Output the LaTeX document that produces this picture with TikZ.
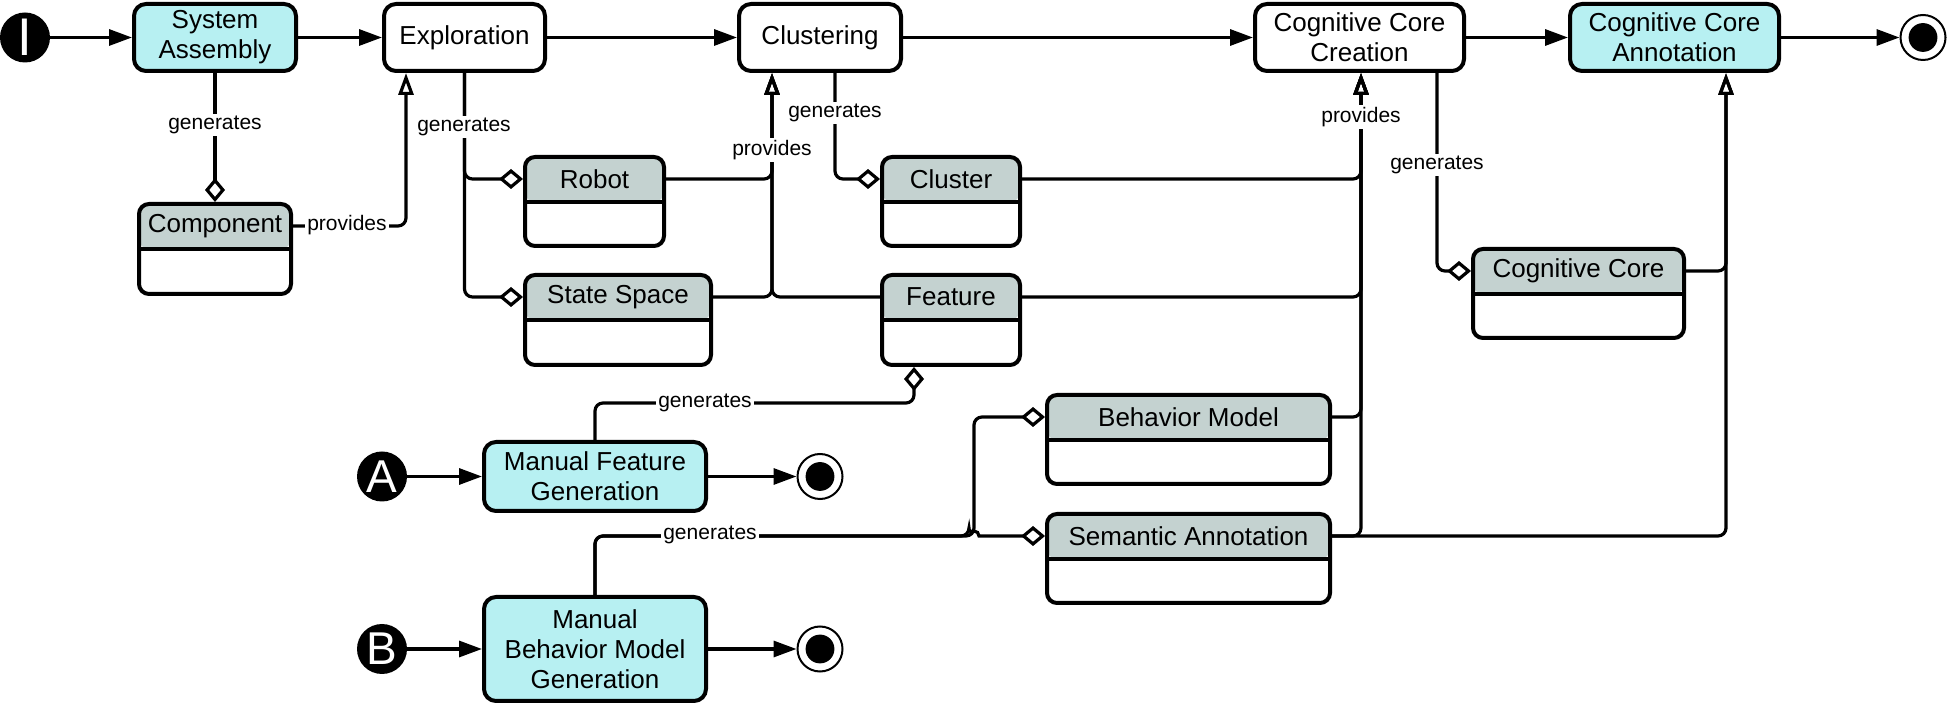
\documentclass[tikz,border=0pt]{standalone}
\usepackage{fontspec}
\setmainfont{Liberation Sans}
\usetikzlibrary{arrows.meta}
\definecolor{cyanf}{HTML}{B7F0F2}
\definecolor{hdrgrey}{HTML}{C4D2D0}
\newcommand\nodefnt{\fontsize{13}{15}\selectfont}
\newcommand\lblfnt{\fontsize{10.5}{12}\selectfont}
\newcommand\initfnt{\fontsize{26.5}{28}\selectfont}
\newcommand\letfnt{\fontsize{23}{25}\selectfont}
\begin{document}
\begin{tikzpicture}[x=0.5pt,y=-0.5pt,
  act/.style={draw, line width=2pt, rounded corners=6pt, align=center, font=\nodefnt, inner sep=2pt, minimum height=33.5pt},
  actc/.style={act, fill=cyanf},
  actw/.style={act, fill=white},
  cls/.style={draw, line width=2pt, rounded corners=5pt, fill=white, inner sep=0pt, minimum height=44.5pt,
    path picture={\fill[hdrgrey] (path picture bounding box.north west) rectangle ([yshift=-22.5pt]path picture bounding box.north east);
      \draw[line width=1.8pt] ([yshift=-22.5pt]path picture bounding box.north west) -- ([yshift=-22.5pt]path picture bounding box.north east);}},
  ctext/.style={font=\nodefnt, inner sep=0pt},
  circ/.style={circle, fill=black, text=white, inner sep=0pt, minimum size=25pt},
  fin/.style={circle, draw, line width=1pt, fill=white, inner sep=0pt, minimum size=22.5pt,
    path picture={\fill[black] (path picture bounding box.center) circle[radius=7.2pt];}},
  conn/.style={line width=1.6pt, rounded corners=4pt},
  flow/.style={conn, -{Triangle[length=11.5pt, width=8pt]}},
  gen/.style={conn, -{Diamond[open, length=12pt, width=10pt]}},
  prov/.style={conn, -{Triangle[open, length=11pt, width=7.5pt]}},
  lbl/.style={font=\lblfnt, fill=white, inner sep=1pt}
]
\useasboundingbox (0,0) rectangle (1948,704);

% activities
\node[circ] (init) at (25,37.5) {\initfnt I};
\node[actc, minimum width=81pt] (sysasm) at (215,37.5) {System\\Assembly};
\node[actw, minimum width=80.5pt] (explor) at (464.5,37.5) {Exploration};
\node[actw, minimum width=81pt] (clust) at (820,37.5) {Clustering};
\node[actw, minimum width=104.5pt] (ccc) at (1359.5,37.5) {Cognitive Core\\Creation};
\node[actc, minimum width=104.5pt] (cca) at (1674.5,37.5) {Cognitive Core\\Annotation};
\node[fin] (fin) at (1923,37.5) {};

\node[circ] (ia) at (382,476.5) {\letfnt A};
\node[actc, minimum width=111pt, minimum height=34.5pt] (mfg) at (595,476.5) {Manual Feature\\Generation};
\node[fin] (fa) at (820,476.5) {};

\node[circ] (ib) at (382,649) {\letfnt B};
\node[actc, minimum width=111pt, minimum height=52pt] (mbmg) at (595,649) {Manual\\Behavior Model\\Generation};
\node[fin] (fb) at (820,649) {};

% classes
\node[cls, minimum width=76pt, minimum height=45pt] (comp) at (215,249) {};
\node[ctext] (compT) at ([yshift=-12pt]comp.north) {Component};
\node[cls, minimum width=69.5pt] (robot) at (594.5,201.5) {};
\node[ctext] (robotT) at ([yshift=-12pt]robot.north) {Robot};
\node[cls, minimum width=93pt, minimum height=45pt] (ss) at (618,320) {};
\node[ctext] (ssT) at ([yshift=-12pt]ss.north) {State Space};
\node[cls, minimum width=69pt] (cluster) at (951,201.5) {};
\node[ctext] (clusterT) at ([yshift=-12pt]cluster.north) {Cluster};
\node[cls, minimum width=69pt, minimum height=45pt] (feat) at (951,320) {};
\node[ctext] (featT) at ([yshift=-12pt]feat.north) {Feature};
\node[cls, minimum width=105.5pt] (cc) at (1578.5,293.5) {};
\node[ctext] (ccT) at ([yshift=-12pt]cc.north) {Cognitive Core};
\node[cls, minimum width=141.5pt] (bm) at (1188.5,439.5) {};
\node[ctext] (bmT) at ([yshift=-12pt]bm.north) {Behavior Model};
\node[cls, minimum width=141.5pt] (sa) at (1188.5,558.5) {};
\node[ctext] (saT) at ([yshift=-12pt]sa.north) {Semantic Annotation};

% control flow
\draw[flow] (init.east) -- (sysasm.west);
\draw[flow] (sysasm.east) -- (explor.west);
\draw[flow] (explor.east) -- (clust.west);
\draw[flow] (clust.east) -- (ccc.west);
\draw[flow] (ccc.east) -- (cca.west);
\draw[flow] (cca.east) -- (fin.west);
\draw[flow] (ia.east) -- (mfg.west);
\draw[flow] (mfg.east) -- (fa.west);
\draw[flow] (ib.east) -- (mbmg.west);
\draw[flow] (mbmg.east) -- (fb.west);

% generates
\draw[gen] (sysasm.south) -- (comp.north);
\draw[gen] (explor.south) |- (robotT -| robot.west);
\draw[gen] (explor.south) |- (ssT -| ss.west);
\draw[gen] ([xshift=7.5pt]clust.south) |- (clusterT -| cluster.west);
\draw[gen] ([xshift=38.75pt]ccc.south) |- (ccT -| cc.west);
\draw[gen] (mfg.north) -- ++(0,-37) -| ([xshift=-18.5pt]feat.south);
\draw[gen] (mbmg.north) |- ([xshift=-35.5pt]saT -| sa.west) |- (bmT -| bm.west);
\draw[gen] (mbmg.north) |- ([xshift=-38pt]saT -| sa.west) [sharp corners] arc[start angle=180, end angle=0, radius=2.5pt] -- (saT -| sa.west);

% provides
\draw[prov] (compT -| comp.east) -| ([xshift=-29.25pt]explor.south);
\draw[prov] (robotT -| robot.east) -| ([xshift=-24pt]clust.south);
\draw[prov] (ssT -| ss.east) -| ([xshift=-24pt]clust.south);
\draw[prov] (featT -| feat.west) -| ([xshift=-24pt]clust.south);
\draw[prov] (clusterT -| cluster.east) -| ([xshift=0.75pt]ccc.south);
\draw[prov] (featT -| feat.east) -| ([xshift=0.75pt]ccc.south);
\draw[prov] (bmT -| bm.east) -| ([xshift=0.75pt]ccc.south);
\draw[prov] (saT -| sa.east) -| ([xshift=0.75pt]ccc.south);
\draw[prov] (ccT -| cc.east) -| ([xshift=25.75pt]cca.south);
\draw[prov] (saT -| sa.east) -| ([xshift=25.75pt]cca.south);

% labels
\node[lbl] (l1) at (215,125) {generates};
\node[lbl] (l2) at (347,225) {provides};
\node[lbl] (l3) at (464,127) {generates};
\node[lbl] (l4) at (772,150) {provides};
\node[lbl] (l5) at (835,113) {generates};
\node[lbl] (l6) at (1361,117) {provides};
\node[lbl] (l7) at (1437,165) {generates};
\node[lbl] (l8) at (705,403) {generates};
\node[lbl] (l9) at (710,535) {generates};
\end{tikzpicture}
\end{document}
